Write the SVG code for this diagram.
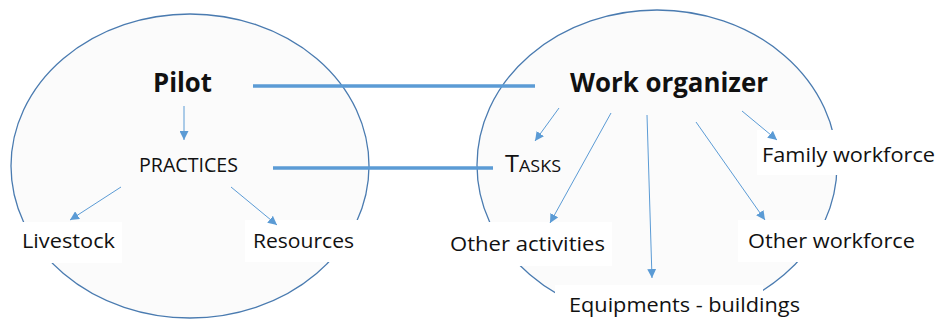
<svg xmlns="http://www.w3.org/2000/svg" width="940" height="320" viewBox="0 0 940 320">
<defs>
<marker id="ah" viewBox="0 0 10 10" refX="10" refY="5" markerWidth="9" markerHeight="9" markerUnits="userSpaceOnUse" orient="auto">
<path d="M0,0 L10,5 L0,10 z" fill="#5b9bd5"/>
</marker>
<style>
.ell{fill:#fbfbfb;stroke:#4a7bb0;stroke-width:1.3}
.box{fill:#ffffff}
.t{font-family:"Open Sans","Liberation Sans",sans-serif;font-size:20px;fill:#111}
.b{font-family:"Open Sans","Liberation Sans",sans-serif;font-size:26px;font-weight:bold;fill:#111}
.arr{stroke:#5b9bd5;stroke-width:1;fill:none;marker-end:url(#ah)}
.bar{stroke:#5b9bd5;stroke-width:3.5;fill:none}
</style>
</defs>
<rect width="940" height="320" fill="#ffffff"/>
<g id="left-ellipse"><ellipse class="ell" cx="190" cy="166" rx="179" ry="152"/></g>
<g id="right-ellipse"><ellipse class="ell" cx="657" cy="165" rx="180" ry="155"/></g>
<g id="pilot"><text class="b" x="153" y="92" textLength="59" lengthAdjust="spacingAndGlyphs">Pilot</text></g>
<g id="work-organizer"><text class="b" x="570" y="92" textLength="198" lengthAdjust="spacingAndGlyphs">Work organizer</text></g>
<g id="practices"><text class="t" x="139" y="172" textLength="99" lengthAdjust="spacingAndGlyphs">PRACTICES</text></g>
<g id="tasks"><text class="t" x="505" y="172" textLength="56" lengthAdjust="spacingAndGlyphs"><tspan font-size="24">T</tspan><tspan font-size="17">ASKS</tspan></text></g>
<g id="livestock"><rect class="box" x="10" y="222" width="112" height="41"/><text class="t" x="22" y="248" textLength="93" lengthAdjust="spacingAndGlyphs">Livestock</text></g>
<g id="resources"><rect class="box" x="245" y="220" width="125" height="42"/><text class="t" x="253" y="248" textLength="101" lengthAdjust="spacingAndGlyphs">Resources</text></g>
<g id="other-activities"><rect class="box" x="440" y="222" width="172" height="44"/><text class="t" x="450" y="251" textLength="155" lengthAdjust="spacingAndGlyphs">Other activities</text></g>
<g id="equipments"><rect class="box" x="555" y="285" width="208" height="35"/><text class="t" x="569" y="312" textLength="231" lengthAdjust="spacingAndGlyphs">Equipments - buildings</text></g>
<g id="other-workforce"><rect class="box" x="738" y="220" width="190" height="42"/><text class="t" x="748" y="248" textLength="167" lengthAdjust="spacingAndGlyphs">Other workforce</text></g>
<g id="family-workforce"><rect class="box" x="757" y="130" width="183" height="45"/><text class="t" x="762" y="162" textLength="173" lengthAdjust="spacingAndGlyphs">Family workforce</text></g>
<g id="connectors">
<line class="bar" x1="253" y1="86" x2="535" y2="86"/>
<line class="bar" x1="273" y1="168" x2="493" y2="168"/>
<line class="arr" x1="184" y1="106" x2="184" y2="140"/>
<line class="arr" x1="121" y1="187" x2="70" y2="220"/>
<line class="arr" x1="231" y1="187" x2="277" y2="225"/>
<line class="arr" x1="559" y1="108" x2="535" y2="141"/>
<line class="arr" x1="611" y1="113" x2="550" y2="223"/>
<line class="arr" x1="647" y1="115" x2="652" y2="278"/>
<line class="arr" x1="696" y1="122" x2="765" y2="220"/>
<line class="arr" x1="742" y1="111" x2="777" y2="140"/>
</g>
</svg>
